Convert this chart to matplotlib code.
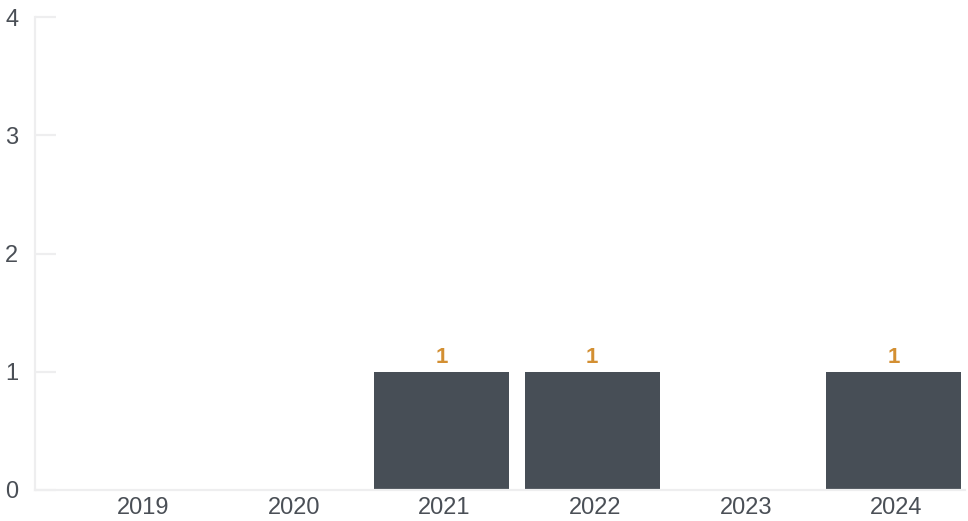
import matplotlib
matplotlib.use("Agg")
import matplotlib.pyplot as plt
from matplotlib.transforms import ScaledTranslation

years = ["2019", "2020", "2021", "2022", "2023", "2024"]
counts = [0, 0, 1, 1, 0, 1]
y_ticks = [0, 1, 2, 3, 4]

plt.rcParams['font.family'] = ['Liberation Sans', 'DejaVu Sans']

W, H = 968, 521
fig = plt.figure(figsize=(W / 100, H / 100), dpi=100)
left, right, top, bottom = 35, 965, 17, 490
ax = fig.add_axes([left / W, 1 - bottom / H, (right - left) / W, (bottom - top) / H])

x = list(range(len(years)))
bar_color = "#474e56"
ax.bar(x, counts, width=0.896, color=bar_color, zorder=2)
for xi, c in zip(x, counts):
    if c > 0:
        ax.text(xi, c + 0.03, str(c), ha="center", va="bottom",
                color="#d38f32", fontsize=16, fontweight="bold")

ax.set_xlim(-0.697, 5.474)
ax.set_ylim(0, 4)
ax.set_yticks(y_ticks)
ax.set_xticks(x)
ax.set_xticklabels(years)

spine_color = "#eeeeef"
for s in ["top", "right"]:
    ax.spines[s].set_visible(False)
for s in ["left", "bottom"]:
    ax.spines[s].set_color(spine_color)
    ax.spines[s].set_linewidth(1.6)

ax.tick_params(axis="y", direction="in", length=15, width=1.6, color=spine_color,
               labelsize=17, labelcolor="#4a4f56", pad=12)
ax.tick_params(axis="x", length=0, labelsize=17, labelcolor="#4a4f56", pad=5)

shift = ScaledTranslation(3 / 100, 0, fig.dpi_scale_trans)
for lbl in ax.get_xticklabels():
    lbl.set_transform(lbl.get_transform() + shift)

fig.savefig("out.png", dpi=100)
